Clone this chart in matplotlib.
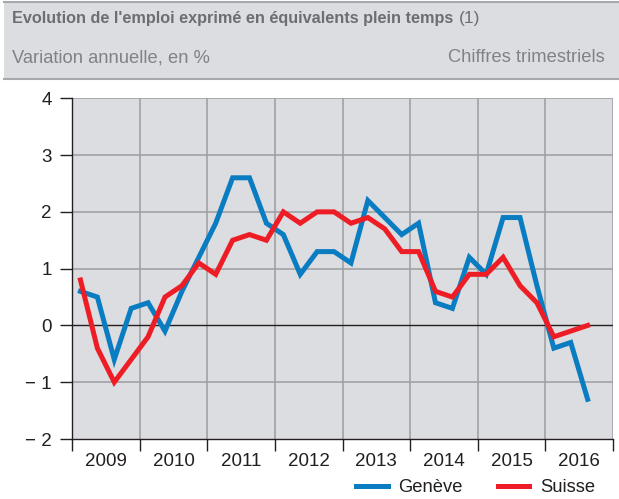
"""
Evolution de l'emploi exprimé en équivalents plein temps - Genève / Suisse
"""
import matplotlib
matplotlib.use('Agg')
import matplotlib.pyplot as plt
from matplotlib.patches import Rectangle
from matplotlib.lines import Line2D

plt.rcParams['font.family'] = ['Liberation Sans', 'DejaVu Sans']

# données trimestrielles (2009 T1 -> 2016 T3)
annees = [2009, 2010, 2011, 2012, 2013, 2014, 2015, 2016]
trimestres = [a + (q + 0.5) / 4 for a in annees for q in range(4)][:31]

geneve = [0.6, 0.5, -0.6, 0.3,
          0.4, -0.1, 0.6, 1.2,
          1.8, 2.6, 2.6, 1.8,
          1.6, 0.9, 1.3, 1.3,
          1.1, 2.2, 1.9, 1.6,
          1.8, 0.4, 0.3, 1.2,
          0.9, 1.9, 1.9, 0.7,
          -0.4, -0.3, -1.3]

suisse = [0.8, -0.4, -1.0, -0.6,
          -0.2, 0.5, 0.7, 1.1,
          0.9, 1.5, 1.6, 1.5,
          2.0, 1.8, 2.0, 2.0,
          1.8, 1.9, 1.7, 1.3,
          1.3, 0.6, 0.5, 0.9,
          0.9, 1.2, 0.7, 0.4,
          -0.2, -0.1, 0.0]

y_ticks = [-2, -1, 0, 1, 2, 3, 4]
y_labels = ['\u2212 2', '\u2212 1', '0', '1', '2', '3', '4']

BLEU = '#0a7dc2'
ROUGE = '#ee1d25'
FOND = '#dcdde0'
GRILLE = '#9fa1a4'
NOIR = '#231f20'

W, H = 619, 499
fig = plt.figure(figsize=(W / 100, H / 100), dpi=100)

# bandeau de titre
fig.patches.append(Rectangle((4 / W, 1 - 79 / H), 1, 77 / H, transform=fig.transFigure,
                             facecolor=FOND, edgecolor='none', zorder=0))
for yp in (2, 79):
    fig.add_artist(Line2D([4 / W, 1], [1 - yp / H, 1 - yp / H], transform=fig.transFigure,
                          color='#a7a9ac', lw=1.5))
fig.text(12 / W, 1 - 18 / H, "Evolution de l'emploi exprimé en équivalents plein temps",
         fontsize=11.7, fontweight='bold', color='#6d6e71', va='center', ha='left')
fig.text(459 / W, 1 - 18 / H, "(1)", fontsize=12.5, color='#6d6e71', va='center', ha='left')
fig.text(12 / W, 1 - 58 / H, "Variation annuelle, en %", fontsize=13.2,
         color='#808285', va='center', ha='left')
fig.text(605 / W, 1 - 58 / H, "Chiffres trimestriels", fontsize=13.2,
         color='#808285', va='center', ha='right')

ax = fig.add_axes([72 / W, 60 / H, 541 / W, 340.7 / H])
ax.set_facecolor(FOND)

ax.set_xlim(2009, 2017)
ax.set_ylim(-2, 4)

# grille
for a in annees[1:] + [2017]:
    ax.axvline(a, color=GRILLE, lw=1.2, zorder=1)
for v in y_ticks:
    if v == 0:
        ax.axhline(0, color=NOIR, lw=1.0, zorder=1.5)
    elif v > -2:
        ax.axhline(v, color=GRILLE, lw=1.2, zorder=1)

ax.plot(trimestres, geneve, color=BLEU, lw=3.6, solid_joinstyle='miter', zorder=3)
ax.plot(trimestres, suisse, color=ROUGE, lw=3.6, solid_joinstyle='miter', zorder=4)

for s in ('top', 'right'):
    ax.spines[s].set_visible(False)
for s in ('left', 'bottom'):
    ax.spines[s].set_color(NOIR)
    ax.spines[s].set_linewidth(1.0)

ax.set_yticks(y_ticks)
ax.set_yticklabels(y_labels)
ax.tick_params(axis='y', length=8.5, width=1.0, color=NOIR, pad=6,
               labelsize=13.5, labelcolor=NOIR)

ax.set_xticks(annees + [2017])
ax.set_xticklabels([])
ax.tick_params(axis='x', which='major', length=8.5, width=1.0, color=NOIR)
ax.set_xticks([a + 0.5 for a in annees], minor=True)
ax.set_xticklabels([str(a) for a in annees], minor=True)
ax.tick_params(axis='x', which='minor', length=0, pad=10, labelsize=13.5,
               labelcolor=NOIR)

handles = [Line2D([], [], color=BLEU, lw=3.6), Line2D([], [], color=ROUGE, lw=3.6)]
fig.legend(handles, ['Genève', 'Suisse'], loc='center right',
           bbox_to_anchor=(608 / W, 1 - 488 / H), ncol=2, frameon=False,
           fontsize=13.2, handlelength=1.7, handletextpad=0.6, columnspacing=1.9,
           labelcolor=NOIR, borderpad=0.2)

plt.savefig('out.png', dpi=100)
plt.close()
